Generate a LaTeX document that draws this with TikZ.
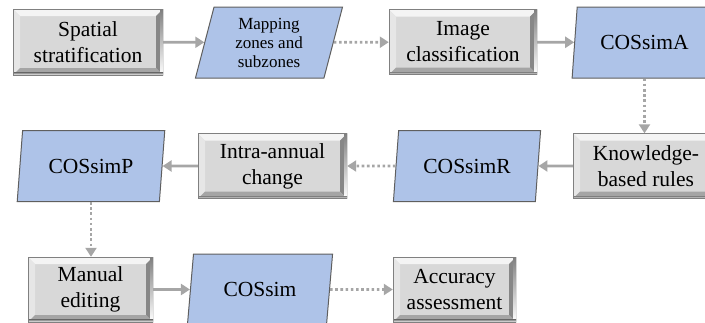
\documentclass[tikz,border=0pt]{standalone}
\usepackage{fontspec}
\setmainfont{Liberation Serif}
\usetikzlibrary{shapes.geometric,arrows.meta}
\definecolor{face}{RGB}{216,216,216}
\definecolor{bvtop}{RGB}{244,244,244}
\definecolor{bvleft}{RGB}{230,230,230}
\definecolor{bvright}{RGB}{135,135,135}
\definecolor{bvbot}{RGB}{165,165,165}
\definecolor{shade}{RGB}{55,55,55}
\definecolor{pblue}{RGB}{174,195,232}
\definecolor{pedge}{RGB}{95,95,95}
\definecolor{conn}{RGB}{166,166,166}
\newcommand{\bvw}{7pt}
\tikzset{
  gbox/.style n args={2}{rectangle, inner sep=0pt, minimum width=#1, minimum height=#2,
    fill=face, align=center, font=\fontsize{21.5}{26}\selectfont,
    path picture={
      \coordinate (pSW) at (path picture bounding box.south west);
      \coordinate (pNE) at (path picture bounding box.north east);
      \coordinate (pNW) at (pSW|-pNE);
      \coordinate (pSE) at (pNE|-pSW);
      \coordinate (iSW) at ([shift={(\bvw,\bvw)}]pSW);
      \coordinate (iNE) at ([shift={(-\bvw,-\bvw)}]pNE);
      \coordinate (iNW) at (iSW|-iNE);
      \coordinate (iSE) at (iNE|-iSW);
      \fill[bvtop] (pNW) -- (pNE) -- (iNE) -- (iNW) -- cycle;
      \fill[bvleft] (pNW) -- (iNW) -- (iSW) -- (pSW) -- cycle;
      \fill[bvright] (pNE) -- (pSE) -- (iSE) -- (iNE) -- cycle;
      \fill[bvbot] (pSW) -- (iSW) -- (iSE) -- (pSE) -- cycle;
      \fill[shade] (pSE) rectangle ([xshift=-2.5pt]pNE);
      \fill[shade] (pSW) rectangle ([yshift=2.5pt]pSE);
      \draw[gray, line width=0.8pt] (pSW) rectangle (pNE);
    }},
  pbox/.style={trapezium, trapezium left angle=77, trapezium right angle=103,
    trapezium stretches=true, inner sep=0pt, minimum width=#1, minimum height=71pt,
    fill=pblue, draw=pedge, line width=1pt, align=center,
    font=\fontsize{21.5}{26}\selectfont},
  solidarrow/.style={draw=conn, line width=2.7pt, -{Triangle[length=9pt,width=11pt]}},
  dotarrow/.style={draw=conn, line width=2.7pt, dash pattern=on 2.6pt off 2.6pt,
    -{Triangle[length=9pt,width=11pt]}}
}
\begin{document}
\begin{tikzpicture}[x=1pt,y=-1pt]
\useasboundingbox (0,0) rectangle (705,322);
\clip (0,0) rectangle (705,322);
% row 1
\node[gbox={150pt}{66pt}] (S) at (88,42) {Spatial\\stratification};
\node[pbox=148pt, font=\fontsize{17}{19}\selectfont] (M) at (269,42.5) {Mapping\\zones and\\subzones};
\node[gbox={148pt}{65pt}] (I) at (463,42) {Image\\classification};
\node[pbox=145pt] (A) at (644.5,42.5) {COSsimA};
% row 2
\node[gbox={146pt}{65pt}] (K) at (646,166) {Knowledge-\\based rules};
\node[pbox=148pt] (R) at (467,166) {COSsimR};
\node[gbox={149pt}{65pt}] (T) at (272.5,166) {Intra-annual\\change};
\node[pbox=148pt] (P) at (91,166) {COSsimP};
% row 3
\node[gbox={125pt}{65pt}] (E) at (90.5,289.5) {Manual\\editing};
\node[pbox=146pt] (C) at (260,289.5) {COSsim};
\node[gbox={123pt}{65pt}] (Q) at (454.5,289.5) {Accuracy\\assessment};
% connectors
\draw[solidarrow] (S) -- (M);
\draw[dotarrow] (M) -- (I);
\draw[solidarrow] (I) -- (A);
\draw[dotarrow] (A.south) -- (A.south |- K.north);
\draw[solidarrow] (K) -- (R);
\draw[dotarrow] (R) -- (T);
\draw[solidarrow] (T) -- (P);
\draw[dotarrow] (P.south) -- (P.south |- E.north);
\draw[solidarrow] (E) -- (C);
\draw[dotarrow] (C) -- (Q);
\end{tikzpicture}
\end{document}
